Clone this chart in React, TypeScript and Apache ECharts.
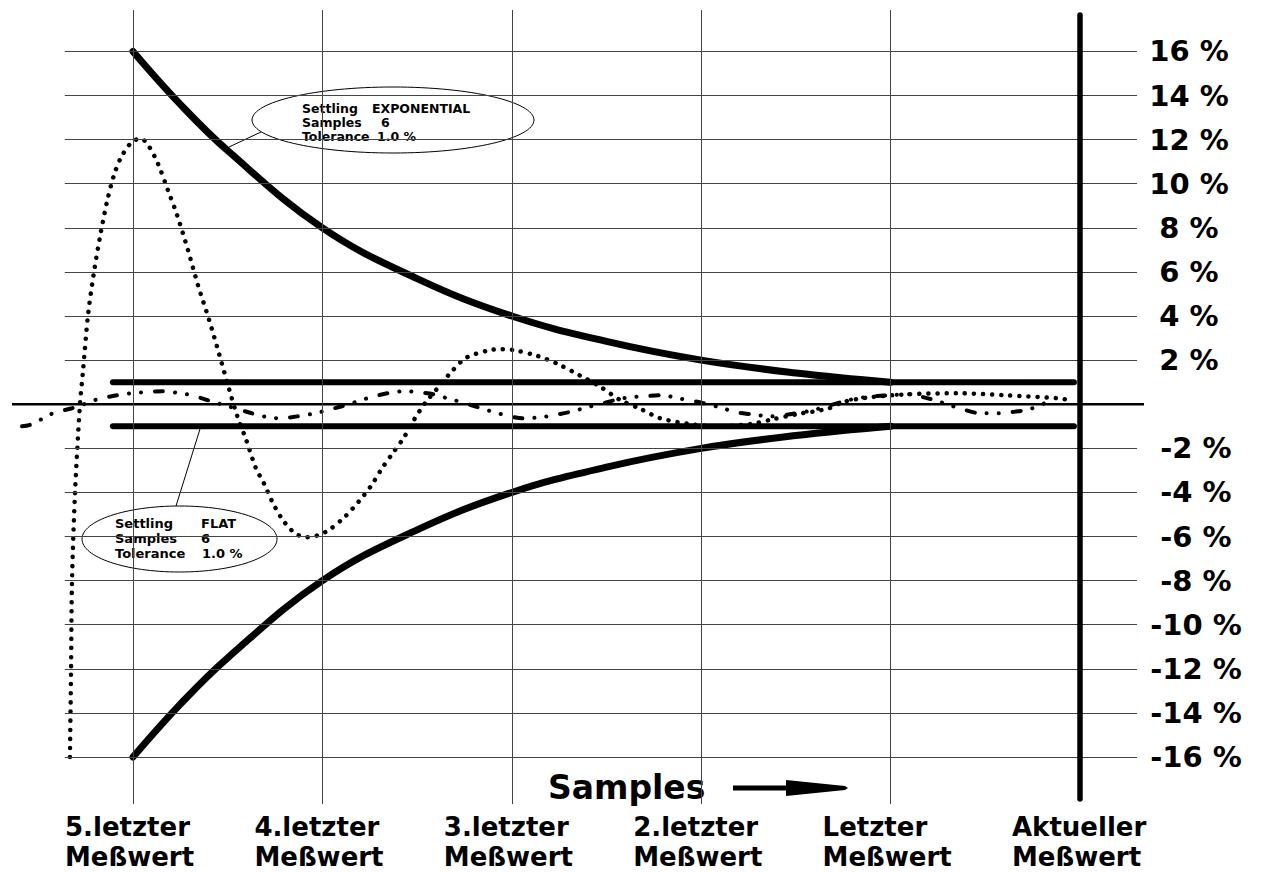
import React, { useEffect, useRef } from 'react';
import * as echarts from 'echarts';

const FONT = '"DejaVu Sans", "Liberation Sans", sans-serif';

// ---- data ----
const sampleNames = ['5.letzter', '4.letzter', '3.letzter', '2.letzter', 'Letzter', 'Aktueller'];
const sampleWord = 'Meßwert';
const samplePos = [0, 1, 2, 3, 4, 5];
const yTickValues = [16, 14, 12, 10, 8, 6, 4, 2, -2, -4, -6, -8, -10, -12, -14, -16];

const envX = [0, 0.25, 0.5, 1, 1.5, 2, 2.5, 3, 3.5, 4];
const envUpper = [16, 13.6, 11.5, 8, 5.7, 4, 2.85, 2, 1.42, 1];
const envLower = [-16, -13.6, -11.5, -8, -5.7, -4, -2.85, -2, -1.42, -1];

const tolX = [-0.106, 4.968];
const tolUpper = [1, 1];
const tolLower = [-1, -1];

const zeroX = [-0.639, 5.338];
const zeroY = [0, 0];

const dottedX = [-0.333, -0.327, -0.322, -0.306, -0.28, -0.264, -0.238, -0.206, -0.174, -0.137, -0.1, -0.063, -0.005, 0.042, 0.084, 0.132, 0.185, 0.232, 0.29, 0.343, 0.401, 0.454, 0.507, 0.549, 0.597, 0.649, 0.692, 0.734, 0.787, 0.855, 0.919, 0.977, 1.035, 1.119, 1.193, 1.257, 1.315, 1.373, 1.431, 1.484, 1.542, 1.605, 1.674, 1.758, 1.88, 1.948, 2.012, 2.133, 2.249, 2.36, 2.466, 2.571, 2.677, 2.782, 2.941, 3.073, 3.258, 3.369, 3.506, 3.669, 3.749, 3.875, 4.087, 4.351, 4.615, 4.884, 4.952];
const dottedY = [-16, -12, -8, -4, 0, 1.5, 4.0, 6.0, 7.6, 9.2, 10.4, 11.2, 11.9, 12.05, 11.7, 10.9, 9.7, 8.6, 7.0, 5.4, 3.85, 2.3, 0.7, -0.5, -1.6, -2.9, -3.6, -4.4, -5.2, -5.85, -6.03, -5.94, -5.7, -5.1, -4.4, -3.7, -2.9, -2.2, -1.5, -0.7, 0.05, 0.7, 1.4, 2.1, 2.45, 2.5, 2.45, 2.2, 1.8, 1.3, 0.8, 0.2, -0.2, -0.63, -0.9, -1.0, -0.9, -0.7, -0.45, -0.2, 0.1, 0.3, 0.45, 0.5, 0.4, 0.27, 0.18];

const dashX = [-0.586, -0.549, -0.475, -0.422, -0.322, -0.243, -0.185, -0.084, -0.005, 0.063, 0.153, 0.248, 0.312, 0.396, 0.486, 0.628, 0.713, 0.781, 0.866, 0.961, 1.024, 1.103, 1.188, 1.257, 1.346, 1.436, 1.499, 1.589, 1.674, 1.737, 1.822, 1.906, 1.969, 2.059, 2.154, 2.218, 2.302, 2.397, 2.466, 2.54, 2.624, 2.693, 2.793, 2.878, 2.941, 3.01, 3.114, 3.178, 3.263, 3.363, 3.469, 3.575, 3.68, 3.786, 3.891, 3.992, 4.102, 4.182, 4.234, 4.314, 4.382, 4.472, 4.567, 4.636, 4.731, 4.815, 4.852];
const dashY = [-1.0, -0.95, -0.64, -0.41, -0.18, 0.05, 0.23, 0.41, 0.5, 0.55, 0.59, 0.5, 0.41, 0.18, -0.05, -0.41, -0.59, -0.64, -0.55, -0.41, -0.27, -0.09, 0.14, 0.32, 0.5, 0.59, 0.55, 0.45, 0.23, 0.09, -0.14, -0.36, -0.5, -0.64, -0.59, -0.5, -0.36, -0.14, 0.0, 0.18, 0.32, 0.36, 0.41, 0.27, 0.18, 0.05, -0.18, -0.36, -0.45, -0.55, -0.45, -0.3, -0.05, 0.2, 0.35, 0.41, 0.45, 0.3, 0.18, -0.05, -0.23, -0.41, -0.41, -0.36, -0.23, 0.05, 0.1];

const zip = (xs: number[], ys: number[]) => xs.map((x, i) => [x, ys[i]]);

export default function App() {
  const ref = useRef<HTMLDivElement>(null);

  useEffect(() => {
    const chart = echarts.init(ref.current as HTMLDivElement, null, { renderer: 'svg' });

    const gridStyle = { color: '#444', width: 1, type: 'solid' };
    const markData: any[] = [];
    yTickValues.forEach((v) => {
      markData.push([{ coord: [-0.36, v], lineStyle: gridStyle }, { coord: [5.301, v] }]);
    });
    samplePos.slice(0, 5).forEach((p) => {
      markData.push([{ coord: [p, 17.88], lineStyle: gridStyle }, { coord: [p, -18.13] }]);
    });
    markData.push([
      { coord: [5, 17.65], lineStyle: { color: '#000', width: 5.5, type: 'solid', cap: 'round' } },
      { coord: [5, -17.9] },
    ]);

    const lineBase = {
      type: 'line',
      symbol: 'none',
      silent: true,
      animation: false,
      clip: false,
      emphasis: { disabled: true },
    };

    const txt = (x: number, y: number, text: string, size: number) => ({
      type: 'text',
      silent: true,
      x,
      y,
      style: { text, fontFamily: FONT, fontWeight: 'bold', fontSize: size, fill: '#000', verticalAlign: 'middle' },
    });

    const option: any = {
      animation: false,
      backgroundColor: '#fff',
      textStyle: { fontFamily: FONT },
      grid: { left: 0, right: 0, top: 0, bottom: 0, containLabel: false },
      xAxis: {
        type: 'value',
        min: -0.70222,
        max: 5.97149,
        minInterval: 1,
        maxInterval: 1,
        offset: -71,
        axisLine: { show: false, onZero: false },
        axisTick: { show: false },
        splitLine: { show: false },
        axisLabel: {
          margin: 11,
          showMinLabel: false,
          showMaxLabel: false,
          formatter: (v: number) => {
            const i = samplePos.indexOf(Math.round(v * 1000) / 1000);
            return i < 0 ? '' : `{a|${sampleNames[i]}}\n{a|${sampleWord}}`;
          },
          rich: {
            a: {
              width: 136,
              align: 'left',
              fontFamily: FONT,
              fontWeight: 'bold',
              fontSize: 26,
              lineHeight: 30,
              color: '#000',
            },
          },
        },
      },
      yAxis: {
        type: 'value',
        min: -21.2132,
        max: 18.3333,
        minInterval: 2,
        maxInterval: 2,
        position: 'right',
        offset: -120,
        axisLine: { show: false, onZero: false },
        axisTick: { show: false },
        splitLine: { show: false },
        axisLabel: {
          margin: 45,
          align: 'center',
          showMinLabel: false,
          showMaxLabel: false,
          fontFamily: FONT,
          fontWeight: 'bold',
          fontSize: 29,
          color: '#000',
          formatter: (v: number) => {
            const r = Math.round(v * 1000) / 1000;
            if (yTickValues.indexOf(r) < 0) return '';
            return r < 0 ? `{n|${r} %}` : `{p|${r} %}`;
          },
          rich: {
            p: { fontFamily: FONT, fontWeight: 'bold', fontSize: 29, color: '#000' },
            n: { fontFamily: FONT, fontWeight: 'bold', fontSize: 29, color: '#000', padding: [0, 0, 0, 14] },
          },
        },
      },
      series: [
        {
          ...lineBase,
          name: 'zero',
          z: 1,
          data: zip(zeroX, zeroY),
          lineStyle: { color: '#000', width: 2.5 },
          markLine: {
            silent: true,
            animation: false,
            symbol: ['none', 'none'],
            label: { show: false },
            lineStyle: { type: 'solid', color: '#444', width: 1 },
            emphasis: { disabled: true },
            data: markData,
          },
        },
        {
          ...lineBase,
          name: 'upper',
          z: 3,
          smooth: 0.4,
          data: zip(envX, envUpper),
          lineStyle: { color: '#000', width: 7, cap: 'round' },
        },
        {
          ...lineBase,
          name: 'lower',
          z: 3,
          smooth: 0.4,
          data: zip(envX, envLower),
          lineStyle: { color: '#000', width: 7, cap: 'round' },
        },
        {
          ...lineBase,
          name: 'tolUp',
          z: 3,
          data: zip(tolX, tolUpper),
          lineStyle: { color: '#000', width: 6, cap: 'round' },
        },
        {
          ...lineBase,
          name: 'tolLow',
          z: 3,
          data: zip(tolX, tolLower),
          lineStyle: { color: '#000', width: 6, cap: 'round' },
        },
        {
          ...lineBase,
          name: 'dotted',
          z: 4,
          smooth: 0.3,
          data: zip(dottedX, dottedY),
          lineStyle: { color: '#000', width: 4.5, type: [0.1, 9], cap: 'round' },
        },
        {
          ...lineBase,
          name: 'dashdot',
          z: 4,
          smooth: 0.3,
          data: zip(dashX, dashY),
          lineStyle: { color: '#000', width: 4, type: [8, 12, 0.1, 12, 0.1, 14], cap: 'round' },
        },
      ],
      graphic: [
        // top annotation
        { type: 'ellipse', silent: true, shape: { cx: 393, cy: 120, rx: 141, ry: 33 }, style: { fill: 'none', stroke: '#000', lineWidth: 1 } },
        { type: 'line', silent: true, shape: { x1: 261, y1: 132, x2: 229, y2: 147 }, style: { stroke: '#000', lineWidth: 1 } },
        txt(302, 108, 'Settling', 12.5),
        txt(372, 108, 'EXPONENTIAL', 12.5),
        txt(302, 122, 'Samples', 12.5),
        txt(381, 122, '6', 12.5),
        txt(302, 136.5, 'Tolerance', 12.5),
        txt(377, 136.5, '1.0 %', 12.5),
        // bottom annotation
        { type: 'ellipse', silent: true, shape: { cx: 179.5, cy: 539, rx: 97.5, ry: 33 }, style: { fill: 'none', stroke: '#000', lineWidth: 1 } },
        { type: 'line', silent: true, shape: { x1: 176, y1: 506, x2: 200, y2: 429 }, style: { stroke: '#000', lineWidth: 1 } },
        txt(115, 523.5, 'Settling', 13),
        txt(201, 523.5, 'FLAT', 13),
        txt(115, 538.5, 'Samples', 13),
        txt(201, 538.5, '6', 13),
        txt(115, 553.5, 'Tolerance', 13),
        txt(202, 553.5, '1.0 %', 13),
        // Samples arrow
        txt(548, 787, 'Samples', 33),
        { type: 'line', silent: true, shape: { x1: 733, y1: 788, x2: 795, y2: 788 }, style: { stroke: '#000', lineWidth: 5 } },
        { type: 'polygon', silent: true, shape: { points: [[786, 780], [845, 786], [848, 788], [845, 790], [786, 796]] }, style: { fill: '#000' } },
      ],
    };

    chart.setOption(option);
    return () => chart.dispose();
  }, []);

  return (
    <div
      ref={ref}
      style={{ position: 'absolute', left: 0, top: 0, width: 1264, height: 872, background: '#fff' }}
    />
  );
}
